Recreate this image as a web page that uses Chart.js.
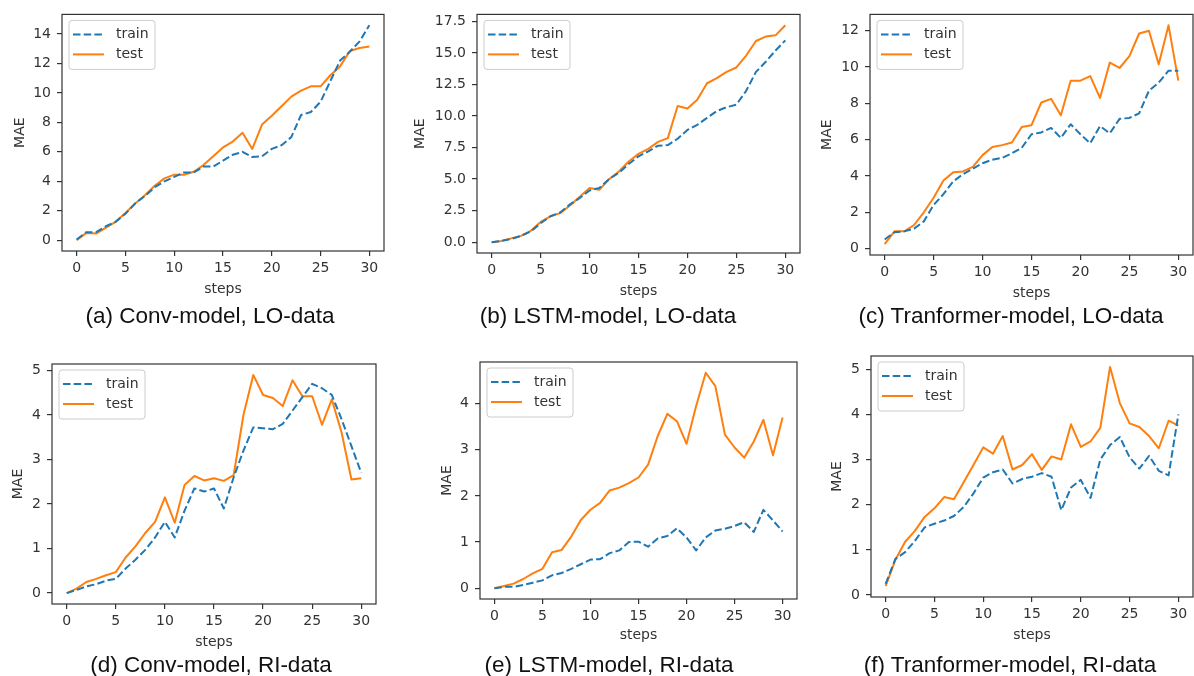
<!DOCTYPE html>
<html>
<head>
<meta charset="utf-8">
<script src="https://cdn.jsdelivr.net/npm/chart.js@4"></script>
<style>
  body { margin: 0; background: #fff; }
  #page { position: relative; width: 1194px; height: 676px; overflow: hidden; background: #fff; }
  #page canvas { position: absolute; }
  .caption {
    position: absolute;
    font-family: "Liberation Sans", Arial, sans-serif;
    font-size: 22.5px;
    color: #111;
    white-space: nowrap;
    transform: translate(-50%, -50%);
  }
</style>
</head>
<body>
<div id="page"></div>
<script>
const steps = [0, 1, 2, 3, 4, 5, 6, 7, 8, 9, 10, 11, 12, 13, 14, 15, 16, 17, 18, 19, 20, 21, 22, 23, 24, 25, 26, 27, 28, 29, 30];
const seriesNames = ['train', 'test'];

const convLoTrain = [0.05, 0.55, 0.55, 0.95, 1.25, 1.8, 2.5, 3.0, 3.6, 4.0, 4.3, 4.6, 4.6, 5.0, 5.0, 5.4, 5.8, 6.0, 5.65, 5.7, 6.2, 6.45, 7.0, 8.5, 8.7, 9.4, 10.8, 12.2, 12.8, 13.5, 14.6];
const convLoTest = [0.0, 0.5, 0.45, 0.85, 1.25, 1.85, 2.5, 3.05, 3.7, 4.2, 4.45, 4.45, 4.65, 5.1, 5.7, 6.3, 6.7, 7.3, 6.2, 7.85, 8.45, 9.1, 9.75, 10.15, 10.45, 10.45, 11.2, 11.8, 12.85, 13.05, 13.15];

const lstmLoTrain = [0.0, 0.1, 0.25, 0.5, 0.85, 1.5, 2.05, 2.35, 3.0, 3.5, 4.1, 4.3, 5.0, 5.5, 6.2, 6.8, 7.2, 7.65, 7.7, 8.2, 8.9, 9.3, 9.85, 10.4, 10.7, 10.9, 12.0, 13.5, 14.3, 15.2, 16.0];
const lstmLoTest = [0.0, 0.1, 0.3, 0.5, 0.9, 1.6, 2.05, 2.3, 2.9, 3.6, 4.3, 4.15, 5.0, 5.6, 6.4, 7.0, 7.4, 7.95, 8.25, 10.8, 10.6, 11.3, 12.6, 13.0, 13.5, 13.85, 14.8, 15.95, 16.3, 16.4, 17.2];

const tfLoTrain = [0.5, 0.9, 0.95, 1.1, 1.5, 2.4, 3.0, 3.7, 4.1, 4.4, 4.7, 4.9, 5.0, 5.25, 5.55, 6.3, 6.4, 6.65, 6.1, 6.85, 6.3, 5.8, 6.75, 6.35, 7.15, 7.2, 7.45, 8.7, 9.15, 9.8, 9.8];
const tfLoTest = [0.25, 0.95, 0.95, 1.3, 2.0, 2.8, 3.75, 4.2, 4.25, 4.5, 5.15, 5.6, 5.7, 5.85, 6.7, 6.8, 8.05, 8.25, 7.35, 9.25, 9.25, 9.5, 8.3, 10.25, 9.95, 10.6, 11.85, 12.0, 10.15, 12.3, 9.25];

const convRiTrain = [0.0, 0.07, 0.15, 0.2, 0.28, 0.32, 0.55, 0.75, 0.97, 1.25, 1.6, 1.25, 1.85, 2.35, 2.28, 2.35, 1.9, 2.6, 3.2, 3.72, 3.7, 3.68, 3.8, 4.1, 4.4, 4.7, 4.6, 4.45, 3.9, 3.3, 2.7];
const convRiTest = [0.0, 0.1, 0.25, 0.32, 0.4, 0.47, 0.8, 1.05, 1.35, 1.6, 2.15, 1.58, 2.43, 2.63, 2.53, 2.58, 2.52, 2.65, 4.0, 4.9, 4.45, 4.38, 4.2, 4.78, 4.42, 4.42, 3.78, 4.35, 3.6, 2.55, 2.58];

const lstmRiTrain = [0.0, 0.03, 0.03, 0.07, 0.12, 0.17, 0.28, 0.33, 0.42, 0.52, 0.62, 0.63, 0.76, 0.82, 1.0, 1.01, 0.9, 1.08, 1.13, 1.3, 1.1, 0.82, 1.1, 1.25, 1.29, 1.35, 1.43, 1.22, 1.7, 1.47, 1.23];
const lstmRiTest = [0.0, 0.05, 0.1, 0.2, 0.32, 0.42, 0.78, 0.83, 1.12, 1.48, 1.7, 1.85, 2.12, 2.18, 2.28, 2.4, 2.68, 3.3, 3.78, 3.62, 3.13, 3.95, 4.67, 4.38, 3.33, 3.05, 2.83, 3.18, 3.65, 2.88, 3.7];

const tfRiTrain = [0.25, 0.8, 0.95, 1.2, 1.5, 1.58, 1.65, 1.75, 1.95, 2.25, 2.6, 2.72, 2.78, 2.47, 2.57, 2.62, 2.7, 2.62, 1.88, 2.38, 2.55, 2.15, 3.0, 3.32, 3.5, 3.05, 2.8, 3.08, 2.75, 2.65, 4.0];
const tfRiTest = [0.2, 0.78, 1.18, 1.42, 1.73, 1.92, 2.17, 2.12, 2.5, 2.88, 3.27, 3.13, 3.52, 2.78, 2.88, 3.12, 2.77, 3.07, 3.0, 3.78, 3.28, 3.4, 3.7, 5.05, 4.25, 3.8, 3.72, 3.52, 3.25, 3.86, 3.75];

const captions = [
    '(a) Conv-model, LO-data', '(b) LSTM-model, LO-data', '(c) Tranformer-model, LO-data',
    '(d) Conv-model, RI-data', '(e) LSTM-model, RI-data', '(f) Tranformer-model, RI-data'
];
const yTickSteps = [2, 2.5, 2, 1, 1, 1];
const yTickDecimals = [0, 1, 0, 0, 0, 0];
const xTickStep = 5;

// layout: canvas box, plot frame (page coords), y-title centre x, x-title centre y, caption centre
const panels = [
    { train: convLoTrain, test: convLoTest, canvas: [0, 0, 400, 305], frame: [62, 12, 384, 251], maeX: 20, stepsY: 289, cap: [210, 316] },
    { train: lstmLoTrain, test: lstmLoTest, canvas: [400, 0, 405, 305], frame: [477, 13, 800, 253], maeX: 420, stepsY: 291, cap: [608, 316] },
    { train: tfLoTrain, test: tfLoTest, canvas: [805, 0, 389, 305], frame: [870, 13, 1193, 255], maeX: 827, stepsY: 293, cap: [1011, 316] },
    { train: convRiTrain, test: convRiTest, canvas: [0, 340, 400, 312], frame: [52, 364, 376, 604], maeX: 18, stepsY: 642, cap: [211, 665] },
    { train: lstmRiTrain, test: lstmRiTest, canvas: [400, 340, 405, 312], frame: [480, 362, 797, 599], maeX: 447, stepsY: 635, cap: [609, 665] },
    { train: tfRiTrain, test: tfRiTest, canvas: [805, 340, 389, 312], frame: [871, 356, 1193, 597], maeX: 837, stepsY: 635, cap: [1010, 665] }
];

const BLUE = '#1f77b4';
const ORANGE = '#ff7f0e';
const AXIS = '#333';
const FONT = '"DejaVu Sans", sans-serif';
const LABEL_PX = 14;
const HALF_LINE = LABEL_PX * 1.2 / 2;

Chart.defaults.font.family = FONT;
Chart.defaults.font.size = LABEL_PX;
Chart.defaults.color = AXIS;

// matplotlib-like box around the plot area
const framePlugin = {
    id: 'frame',
    afterDatasetsDraw(chart) {
        const { ctx, chartArea: a } = chart;
        ctx.save();
        ctx.strokeStyle = AXIS;
        ctx.lineWidth = 1.2;
        ctx.strokeRect(a.left, a.top, a.right - a.left, a.bottom - a.top);
        ctx.restore();
    }
};

// legend in the upper-left corner of the axes
const boxLegend = {
    id: 'boxLegend',
    afterDraw(chart) {
        const { ctx, chartArea: a } = chart;
        const x = a.left + 7, y = a.top + 6;
        ctx.save();
        ctx.beginPath();
        ctx.roundRect(x, y, 86, 49, 3);
        ctx.fillStyle = 'rgba(255,255,255,0.8)';
        ctx.fill();
        ctx.strokeStyle = '#cccccc';
        ctx.lineWidth = 1;
        ctx.stroke();
        chart.data.datasets.forEach((ds, i) => {
            const ry = y + 14 + i * 20;
            ctx.beginPath();
            ctx.setLineDash(ds.borderDash || []);
            ctx.strokeStyle = ds.borderColor;
            ctx.lineWidth = ds.borderWidth;
            ctx.moveTo(x + 4, ry);
            ctx.lineTo(x + 35, ry);
            ctx.stroke();
            ctx.setLineDash([]);
            ctx.fillStyle = AXIS;
            ctx.font = LABEL_PX + 'px ' + FONT;
            ctx.textBaseline = 'middle';
            ctx.textAlign = 'left';
            ctx.fillText(ds.label, x + 47, ry);
        });
        ctx.restore();
    }
};

const page = document.getElementById('page');

panels.forEach((p, idx) => {
    const [cx, cy, cw, ch] = p.canvas;
    const [L, T, R, B] = p.frame;
    const canvas = document.createElement('canvas');
    canvas.width = cw;
    canvas.height = ch;
    canvas.style.left = cx + 'px';
    canvas.style.top = cy + 'px';
    canvas.style.width = cw + 'px';
    canvas.style.height = ch + 'px';
    page.appendChild(canvas);

    const padLeft = p.maeX - cx - HALF_LINE;
    const yWidth = L - cx - padLeft;
    const padBottom = cy + ch - (p.stepsY + HALF_LINE);
    const xHeight = p.stepsY + HALF_LINE - B;

    const all = p.train.concat(p.test);
    const lo = Math.min(...all), hi = Math.max(...all);
    const margin = (hi - lo) * 0.05;
    const decimals = yTickDecimals[idx];

    new Chart(canvas, {
        type: 'line',
        data: {
            labels: steps,
            datasets: [
                { label: seriesNames[0], data: p.train, borderColor: BLUE, borderWidth: 2, borderDash: [7.5, 3.2] },
                { label: seriesNames[1], data: p.test, borderColor: ORANGE, borderWidth: 2 }
            ]
        },
        options: {
            responsive: false,
            animation: false,
            events: [],
            elements: {
                point: { radius: 0 },
                line: { tension: 0, fill: false, borderJoinStyle: 'round', borderCapStyle: 'butt' }
            },
            layout: { padding: { left: padLeft, top: T - cy, right: cx + cw - R, bottom: padBottom } },
            plugins: { legend: { display: false }, tooltip: { enabled: false } },
            scales: {
                x: {
                    type: 'linear',
                    min: steps[0] - 1.5,
                    max: steps[steps.length - 1] + 1.5,
                    border: { display: false },
                    grid: { drawOnChartArea: false, drawTicks: true, tickLength: 5, color: AXIS, lineWidth: 1.2 },
                    ticks: { stepSize: xTickStep, includeBounds: false, padding: 4, maxRotation: 0, color: AXIS },
                    title: { display: true, text: 'steps', padding: 0, color: AXIS },
                    afterFit: (s) => { s.height = xHeight; }
                },
                y: {
                    min: lo - margin,
                    max: hi + margin,
                    border: { display: false },
                    grid: { drawOnChartArea: false, drawTicks: true, tickLength: 5, color: AXIS, lineWidth: 1.2 },
                    ticks: {
                        stepSize: yTickSteps[idx],
                        includeBounds: false,
                        padding: 6,
                        color: AXIS,
                        callback: (v) => Number(v).toFixed(decimals)
                    },
                    title: { display: true, text: 'MAE', padding: 0, color: AXIS },
                    afterFit: (s) => { s.width = yWidth; }
                }
            }
        },
        plugins: [framePlugin, boxLegend]
    });

    const cap = document.createElement('div');
    cap.className = 'caption';
    cap.textContent = captions[idx];
    cap.style.left = p.cap[0] + 'px';
    cap.style.top = p.cap[1] + 'px';
    page.appendChild(cap);
});
</script>
</body>
</html>
